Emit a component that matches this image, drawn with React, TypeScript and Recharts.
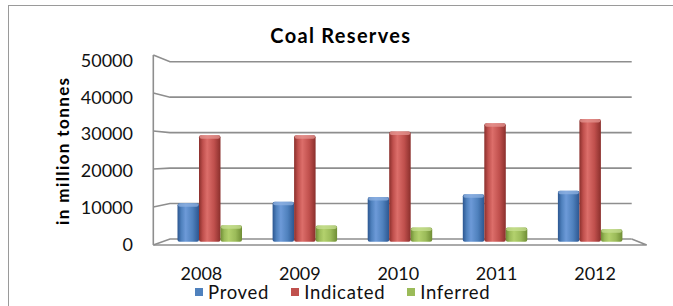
import React from 'react';
import { BarChart, Bar, XAxis, YAxis, CartesianGrid, Legend } from 'recharts';

// values (million tonnes)
const years = ['2008', '2009', '2010', '2011', '2012'];
const proved = [10500, 10900, 12200, 12900, 13900];
const indicated = [29000, 29000, 30000, 32300, 33400];
const inferred = [4500, 4400, 3900, 3900, 3400];
const yTicks = [0, 10000, 20000, 30000, 40000, 50000];

const W = 673;
const H = 306;
const PLOT_TOP = 58.2;
const PLOT_BOTTOM = 241.7;
const PLOT_LEFT = 162.5;
const PLOT_RIGHT = 638;
const Y_MAX = 50000;
const Y_AXIS_W = 100;
const FONT = 'Lato, "Open Sans", sans-serif';

// fake 3d walls (excel style): front edge, back wall, floor
const WALL = {
  frontX: 153.3,
  backX: 170,
  backRight: 631.7,
  floorRight: 646.7,
  front0: 245,
  front50: 55,
  back0: 239,
  back50: 61.7,
};
const WALL_STROKE = '#8e8e8e';

const series = [
  { key: 'proved', name: 'Proved', color: '#4f81bd', light: '#6d9ad8', dark: '#2c5690', cap: '#8fb2e2' },
  { key: 'indicated', name: 'Indicated', color: '#c0504d', light: '#dc6e6a', dark: '#8a2f2c', cap: '#e59591' },
  { key: 'inferred', name: 'Inferred', color: '#9bbb59', light: '#b3d16d', dark: '#6f8d35', cap: '#c7df92' },
];

const data = years.map((year, i) => ({
  year,
  proved: proved[i],
  indicated: indicated[i],
  inferred: inferred[i],
}));

const wallLine = (props: any) => {
  const { y1, index } = props;
  const t = (PLOT_BOTTOM - y1) / (PLOT_BOTTOM - PLOT_TOP);
  const yf = WALL.front0 + (WALL.front50 - WALL.front0) * t;
  const yb = WALL.back0 + (WALL.back50 - WALL.back0) * t;
  const isFloor = t < 0.001;
  return (
    <g key={`wall-${index}`}>
      <polyline
        points={`${WALL.frontX},${yf} ${WALL.backX},${yb} ${WALL.backRight},${yb}`}
        fill="none"
        stroke={WALL_STROKE}
        strokeWidth={1.6}
      />
      {isFloor && (
        <>
          <polyline
            points={`${WALL.backRight},${yb} ${WALL.floorRight},${WALL.front0} ${WALL.frontX},${WALL.front0}`}
            fill="none"
            stroke={WALL_STROKE}
            strokeWidth={1.6}
          />
          <line x1={WALL.frontX} y1={WALL.front0} x2={WALL.frontX} y2={WALL.front50} stroke={WALL_STROKE} strokeWidth={1.6} />
        </>
      )}
    </g>
  );
};

const makeShape = (s: typeof series[number]) => (props: any) => {
  const { x, y, width, height } = props;
  if (!height || height <= 0) return <g />;
  return (
    <g>
      <rect x={x} y={y} width={width} height={height} rx={2} fill={`url(#grad-${s.key})`} />
      <rect x={x + 0.5} y={y} width={width - 1} height={3.5} rx={2} fill={s.cap} opacity={0.75} />
    </g>
  );
};

const YTick = (props: any) => {
  const { x, y, payload } = props;
  return (
    <text x={x} y={y + 8.8} textAnchor="end" fontFamily={FONT} fontSize={18} fill="#111">
      {payload.value}
    </text>
  );
};

const XTick = (props: any) => {
  const { x, y, payload } = props;
  // labels sit on the front edge so they spread a bit wider than the bars
  const lx = 400 + (x - 400) * 1.035 - 2;
  return (
    <text x={lx} y={y + 38} textAnchor="middle" fontFamily={FONT} fontSize={18} fill="#111">
      {payload.value}
    </text>
  );
};

const AxisTitle = () => (
  <text
    transform={`translate(69, 150.7) rotate(-90)`}
    textAnchor="middle"
    fontFamily={FONT}
    fontWeight="bold"
    fontSize={17}
    letterSpacing={1.4}
    fill="#000"
  >
    in million tonnes
  </text>
);

const renderLegend = (props: any) => {
  const order = series.map((s) => s.name);
  const payload = [...(props.payload || [])].sort(
    (a: any, b: any) => order.indexOf(a.value) - order.indexOf(b.value)
  );
  return (
    <div style={{ display: 'flex', alignItems: 'center', fontFamily: FONT, fontSize: 18.5, color: '#111', letterSpacing: 0.7, whiteSpace: 'nowrap' }}>
      {payload.map((entry: any) => (
        <span key={entry.value} style={{ display: 'flex', alignItems: 'center', marginRight: 22 }}>
          <span style={{ display: 'inline-block', width: 8, height: 8, background: entry.color, marginRight: 5 }} />
          {entry.value}
        </span>
      ))}
    </div>
  );
};

export default function App() {
  return (
    <div style={{ position: 'absolute', left: 0, top: 0, width: W, height: H, overflow: 'hidden', background: '#fff' }}>
      <div
        style={{
          position: 'absolute',
          left: 8,
          top: 5,
          width: 700,
          height: 400,
          border: '1.5px solid #9a9a9a',
        }}
      />
      <div
        style={{
          position: 'absolute',
          left: 0,
          top: 23,
          width: 681.6,
          textAlign: 'center',
          fontFamily: FONT,
          fontWeight: 'bold',
          fontSize: 20,
          lineHeight: '24px',
          letterSpacing: 1.3,
          color: '#000',
        }}
      >
        Coal Reserves
      </div>
      <div style={{ position: 'absolute', left: 0, top: 0 }}>
        <BarChart
          width={W}
          height={H}
          data={data}
          barSize={21.5}
          barGap={0}
          margin={{ top: PLOT_TOP, right: W - PLOT_RIGHT, left: PLOT_LEFT - Y_AXIS_W, bottom: 0 }}
        >
          <defs>
            {series.map((s) => (
              <linearGradient key={s.key} id={`grad-${s.key}`} x1="0" y1="0" x2="1" y2="0">
                <stop offset="0%" stopColor={s.dark} />
                <stop offset="18%" stopColor={s.color} />
                <stop offset="38%" stopColor={s.light} />
                <stop offset="70%" stopColor={s.color} />
                <stop offset="100%" stopColor={s.dark} />
              </linearGradient>
            ))}
          </defs>
          <CartesianGrid vertical={false} horizontal={wallLine} />
          <XAxis
            dataKey="year"
            axisLine={false}
            tickLine={false}
            tickSize={0}
            tickMargin={0}
            height={H - PLOT_BOTTOM}
            tick={<XTick />}
            interval={0}
          />
          <YAxis
            domain={[0, Y_MAX]}
            ticks={yTicks}
            axisLine={false}
            tickLine={false}
            tickSize={0}
            tickMargin={29.5}
            width={Y_AXIS_W}
            tick={<YTick />}
            label={{ content: <AxisTitle /> }}
          />
          <Legend
            layout="horizontal"
            verticalAlign="middle"
            align="center"
            content={renderLegend}
            wrapperStyle={{ top: 281, left: 195, width: 'auto' }}
          />
          {series.map((s) => (
            <Bar
              key={s.key}
              dataKey={s.key}
              name={s.name}
              fill={s.color}
              shape={makeShape(s)}
              isAnimationActive={false}
            />
          ))}
        </BarChart>
      </div>
    </div>
  );
}
